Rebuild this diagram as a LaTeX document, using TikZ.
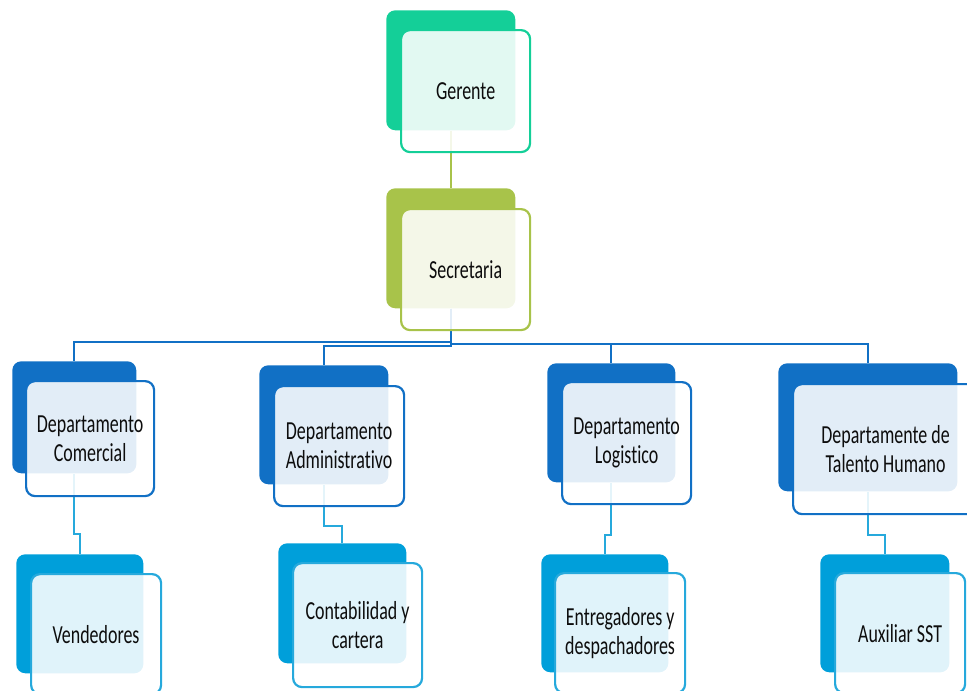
\documentclass[tikz,border=0pt]{standalone}
\usepackage{fontspec}
\setmainfont[FakeStretch=0.69,Ligatures={NoCommon}]{Carlito}
\usepackage{tikz}
\usetikzlibrary{calc}
\usetikzlibrary{positioning}

\definecolor{gerc}{HTML}{14CF98}
\definecolor{secc}{HTML}{A8C34A}
\definecolor{depc}{HTML}{1170C5}
\definecolor{subc}{HTML}{009FDA}
\definecolor{subl}{HTML}{26A9DC}

\begin{document}
\begin{tikzpicture}[x=1pt,y=-1pt,semithick]
 	\tikzstyle{back}=[anchor=north west, rounded corners=9pt, inner sep=0pt]
 	\tikzstyle{front}=[anchor=north west, rounded corners=9pt, line width=2.2pt, fill=white, fill opacity=.88, text opacity=1, align=center, inner sep=0pt, font=\fontsize{26}{29}\selectfont, text=black!95]
 	\tikzstyle{link}=[line width=2pt]
 	\useasboundingbox (0,0) rectangle (967,691);

 	% back boxes
 	\node[back, fill=gerc, minimum width=129pt, minimum height=120pt] (gerB) at (386,10) {};
 	\node[back, fill=secc, minimum width=129pt, minimum height=120pt] (secB) at (386,188) {};
 	\node[back, fill=depc, minimum width=124pt, minimum height=112pt] (comB) at (12,361) {};
 	\node[back, fill=depc, minimum width=129pt, minimum height=119pt] (admB) at (259,365) {};
 	\node[back, fill=depc, minimum width=128pt, minimum height=119pt] (logB) at (547,363) {};
 	\node[back, fill=depc, minimum width=179pt, minimum height=128pt] (talB) at (778,363) {};
 	\node[back, fill=subc, minimum width=127pt, minimum height=119pt] (venB) at (16,554) {};
 	\node[back, fill=subc, minimum width=128pt, minimum height=120pt] (conB) at (278,543) {};
 	\node[back, fill=subc, minimum width=127pt, minimum height=118pt] (entB) at (541,554) {};
 	\node[back, fill=subc, minimum width=129pt, minimum height=118pt] (auxB) at (820,554) {};

 	% connectors
 	\coordinate (bus) at (450,344);
 	\draw[link, secc] (gerB.south) -- (secB.north);
 	\draw[link, depc] (secB.south) -- (secB.south |- bus) -- ++(0,-2) -| (comB.north);
 	\draw[link, depc] (secB.south) -- (secB.south |- bus) -- ++(0,2) -| (admB.north);
 	\draw[link, depc] (secB.south) -- (secB.south |- bus) -| (logB.north);
 	\draw[link, depc] (secB.south) -- (secB.south |- bus) -| (talB.north);
 	\draw[link, subl] (comB.south) -- ++(0,60) -| (venB.north);
 	\draw[link, subl] (admB.south) -- ++(0,41) -| (conB.north);
 	\draw[link, subl] (logB.south) -- ++(0,52) -| (entB.north);
 	\draw[link, subl] (talB.south) -- ++(0,43) -| (auxB.north);

 	% front boxes
 	\node[front, draw=gerc, minimum width=129pt, minimum height=122pt] (ger) at (400,29) {Gerente};
 	\node[front, draw=secc, minimum width=129pt, minimum height=121pt] (sec) at (400,208) {Secretaria};
 	\node[front, draw=depc, minimum width=128pt, minimum height=115pt] (com) at (25,380) {Departamento\\Comercial};
 	\node[front, draw=depc, minimum width=130pt, minimum height=120pt] (adm) at (273,385) {Departamento\\Administrativo};
 	\node[front, draw=depc, minimum width=129pt, minimum height=122pt] (log) at (561,381) {Departamento\\Logistico};
 	\node[front, draw=depc, minimum width=185pt, minimum height=130pt] (tal) at (792,383) {Departamente de\\Talento Humano};
 	\node[front, draw=subl, minimum width=130pt, minimum height=120pt] (ven) at (30,573) {Vendedores};
 	\node[front, draw=subl, minimum width=129pt, minimum height=124pt] (con) at (292,562) {Contabilidad y\\cartera};
 	\node[front, draw=subl, minimum width=130pt, minimum height=120pt] (ent) at (554,572) {Entregadores y\\despachadores};
 	\node[front, draw=subl, minimum width=130pt, minimum height=120pt] (aux) at (834,572) {Auxiliar SST};
\end{tikzpicture}
\end{document}
